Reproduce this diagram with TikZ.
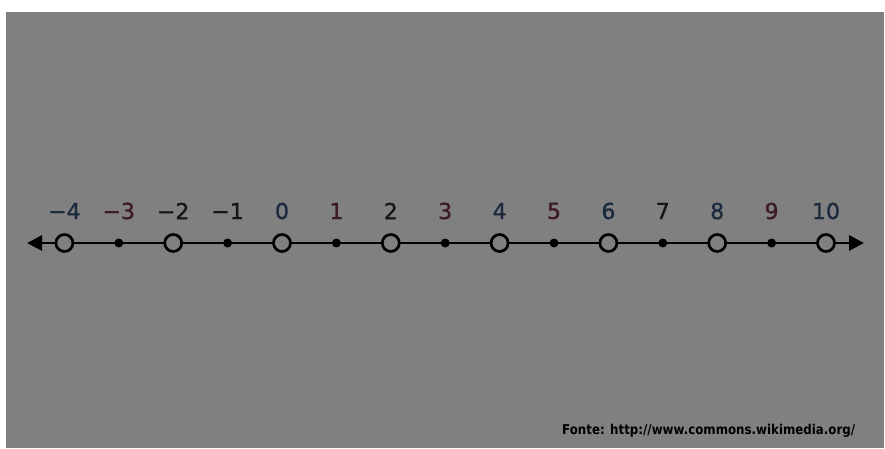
\documentclass[tikz,border=0pt]{standalone}
\usepackage{fontspec}
\setmainfont{DejaVu Sans}
\newfontfamily\srcfont[FakeStretch=0.876]{DejaVu Sans}
\newfontfamily\numfont[FakeBold=1.2]{DejaVu Sans}
\usetikzlibrary{arrows.meta}
\definecolor{bgray}{HTML}{808080}
\definecolor{nblue}{HTML}{1C2A3E}
\definecolor{nred}{HTML}{3C1A26}
\definecolor{nblack}{HTML}{161616}
\tikzset{
  axisline/.style={line width=2.8pt, draw=black, {Triangle[length=15pt,width=15pt]}-{Triangle[length=15pt,width=15pt]}},
  opendot/.style={circle, draw=black, line width=2.7pt, fill=bgray, minimum size=17pt, inner sep=0pt},
  filldot/.style={circle, fill=black, minimum size=9pt, inner sep=0pt},
  numlabel/.style={font=\numfont\fontsize{22}{24}\selectfont, anchor=center, inner sep=0pt},
  srclabel/.style={font=\srcfont\bfseries\fontsize{13.5}{15}\selectfont, text=black, anchor=base west, inner sep=0pt}
}
\begin{document}
\begin{tikzpicture}[x=1pt,y=-1pt]
\useasboundingbox (0,0) rectangle (885,448);
\fill[white] (0,0) rectangle (885,448);
\fill[bgray] (6,12) rectangle (884,448);
\coordinate (L) at (27,243);
\coordinate (R) at (864,243);
\draw[axisline] (L) -- (R);
\foreach \n/\col in {-4/nblue,-3/nred,-2/nblack,-1/nblack,0/nblue,1/nred,2/nblack,3/nred,4/nblue,5/nred,6/nblue,7/nblack,8/nblue,9/nred,10/nblue}{
  \pgfmathsetmacro{\xx}{282+54.4*\n}
  \pgfmathtruncatemacro{\odd}{mod(abs(\n),2)}
  \ifnum\odd=0
    \node[opendot] (p\n) at (\xx,243) {};
  \else
    \node[filldot] (p\n) at (\xx,243) {};
  \fi
  \node[numlabel, text=\col] (t\n) at (\xx,211) {\ifnum\n<0 −\the\numexpr-\n\relax\else\n\fi};
}
\node[srclabel] (src) at (562,434) {Fonte: http://www.commons.wikimedia.org/};
\end{tikzpicture}
\end{document}
